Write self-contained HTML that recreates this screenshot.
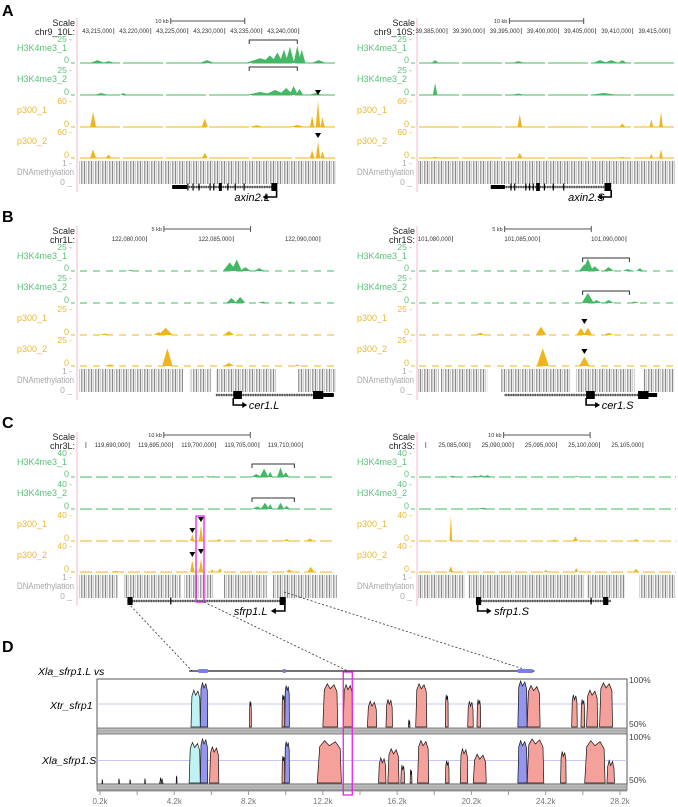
<!DOCTYPE html>
<html><head><meta charset="utf-8"><style>
html,body{margin:0;padding:0;background:#fff}
svg{display:block;font-family:"Liberation Sans",Arial,sans-serif}
</style></head><body>
<svg id="fig" width="678" height="807" viewBox="0 0 678 807" xmlns="http://www.w3.org/2000/svg">
<defs>
<pattern id="meth" width="7" height="30" patternUnits="userSpaceOnUse">
<rect x="0" y="0" width="1.2" height="30" fill="#8a8a8a"/>
<rect x="2.4" y="0" width="0.7" height="30" fill="#b0b0b0"/>
<rect x="4.3" y="0" width="1" height="30" fill="#777"/>
<rect x="5.9" y="0" width="0.5" height="30" fill="#c4c4c4"/>
</pattern>
</defs>
<g id="root"></g>
</svg>
<script>
// ---------- Panel data (kb offsets from window start) ----------
const aL_ticks=[4.7,9.7,14.7,19.7,24.7,29.7];
const aL_tickLabels=["43,215,000","43,220,000","43,225,000","43,230,000","43,235,000","43,240,000"];
const aL_h1=[[2.5,3,1],[4,2,0.8],[17.3,3,1],[24.5,5,2],[25.8,8,1],[26.8,11,0.8],[27.7,14,0.6],[28.5,17,0.6],[29.5,18,0.5],[30.1,14,0.5],[32.4,3,1]];
const aL_h2=[[3,2,1],[6,2,0.5],[24.5,3,2],[26.5,5,1.5],[28,7,1],[29,9,0.6],[29.8,6,0.5],[32,2,1]];
const aL_p1=[[1.9,35,0.4],[17,20,0.4],[24,4,1],[29.5,5,1],[31.5,25,0.3],[32.3,60,0.3],[32.9,22,0.3]];
const aL_p2=[[1.9,20,0.4],[4,8,0.4],[17,12,0.4],[31.5,18,0.3],[32.3,38,0.3],[32.9,15,0.3]];
const aL_meth=[[0,34.7]];

const aS_ticks=[3.9,8.9,13.9,18.9,23.9,28.9,33.9];
const aS_tickLabels=["39,385,000","39,390,000","39,395,000","39,400,000","39,405,000","39,410,000","39,415,000"];
const aS_h1=[[2.3,3,0.5],[13.5,2,0.8],[24.5,3,1],[26,3,1],[27.5,3,0.6]];
const aS_h2=[[2.3,12,0.3],[13.5,1.5,1],[25,2,2]];
const aS_p1=[[13.7,30,0.3],[27.5,8,0.4],[31.4,18,0.25],[32.7,35,0.25]];
const aS_p2=[[2.3,3,0.5],[13.7,12,0.35],[27.5,3,0.5],[31.4,10,0.25],[32.7,20,0.25]];
const aS_meth=[[0,34.7]];

const bL_ticks=[3.9,8.9,13.9];
const bL_tickLabels=["122,080,000","122,085,000","122,090,000"];
const bL_h1=[[3.0,1,0.3],[8.7,9,0.4],[9.1,12,0.3],[9.6,4,0.3],[10.4,3,0.3]];
const bL_h2=[[8.8,5,0.3],[9.3,6,0.3],[10.6,1.5,0.3],[12.2,1.5,0.2]];
const bL_p1=[[1.5,1.5,0.3],[4.6,3,0.3],[5.0,7,0.4],[8.65,4,0.3]];
const bL_p2=[[1.8,1.5,0.3],[5.1,17,0.3],[8.65,3,0.3],[12.6,1.5,0.2]];
const bL_meth=[[0,6],[6.4,7.6],[7.9,11.4],[12.6,14.8]];

const bS_ticks=[2.0,7.0,12.0];
const bS_tickLabels=["101,080,000","101,085,000","101,090,000"];
const bS_h1=[[9.6,7,0.3],[9.8,13,0.3],[10.2,5,0.3],[11,4,0.3],[12.1,2,0.3],[12.8,3,0.2]];
const bS_h2=[[9.8,10,0.35],[10.3,3,0.3],[11,3,0.3],[12.5,1.5,0.3]];
const bS_p1=[[3.6,2,0.3],[7.1,8,0.3],[9.4,7,0.25],[9.8,7,0.25],[11,2,0.3]];
const bS_p2=[[7.2,17,0.35],[9.6,9,0.3]];
const bS_meth=[[0,1.2],[1.3,4],[4.8,8.8],[9.1,12.5],[13,14.8]];

const cL_ticks=[0.8,5.8,10.8,15.8,20.8,25.8];
const cL_tickLabels=["","119,690,000","119,695,000","119,700,000","119,705,000","119,710,000"];
const cL_h1=[[14.9,1.5,0.3],[15.6,1.5,0.3],[20.5,5,0.6],[21.4,14,0.5],[22.1,9,0.3],[23.3,16,0.4],[23.9,8,0.4]];
const cL_h2=[[20.6,4,0.6],[21.5,10,0.5],[22.1,8,0.3],[23.3,10,0.4],[24,5,0.4]];
const cL_p1=[[13.1,10,0.25],[14.1,24,0.25],[16.2,3,0.3],[24,3,0.4],[26.7,4,0.4]];
const cL_p2=[[4.2,2,0.4],[13.1,18,0.25],[14.1,20,0.25],[15.4,4,0.2],[16.3,6,0.25],[24.3,4,0.4],[26.8,8,0.4]];
const cL_meth=[[0,4.5],[5.2,11.8],[12.1,15.6],[16.7,21.7],[22.4,29.8]];

const cS_ticks=[0.9,6.0,11.0,16.0,21.0,26.0];
const cS_tickLabels=["","25,085,000","25,090,000","25,095,000","25,100,000","25,105,000"];
const cS_h1=[[4,2,0.5],[6.6,2,0.5],[7.3,3,0.6],[8,3,0.5],[18.3,1.5,0.5]];
const cS_h2=[[7.5,2,0.8],[25,1,0.5]];
const cS_p1=[[3.8,40,0.15],[15.8,2,0.3],[18.2,7,0.3],[25.2,3,0.3]];
const cS_p2=[[3.8,9,0.25],[14.8,3,0.3],[18.3,6,0.25],[25.2,5,0.3]];
const cS_meth=[[0,5.4],[5.8,19.3],[19.5,23.9],[25.6,29.8]];

// ---------- Conservation (VISTA) data, positions in k ----------
const dTicks=[0.2,2.2,4.2,6.2,8.2,10.2,12.2,14.2,16.2,18.2,20.2,22.2,24.2,26.2,28.2];
const dTickLabels=["0.2k","","4.2k","","8.2k","","12.2k","","16.2k","","20.2k","","24.2k","","28.2k"];
const dXtr=[[5.1,5.6,90,"c"],[5.6,6.0,98,"b"],[8.25,8.35,78,"r"],[10.0,10.15,85,"r"],[10.15,10.4,95,"b"],[12.2,13.0,97,"r"],[13.3,13.8,96,"r"],[14.6,15.1,78,"r"],[15.6,15.95,80,"r"],[16.8,16.9,58,"r"],[17.2,17.8,97,"r"],[18.8,18.95,85,"r"],[20.0,20.3,78,"r"],[20.5,20.7,80,"r"],[22.7,23.2,100,"b"],[23.2,23.9,95,"r"],[25.6,25.9,85,"r"],[26.1,26.3,80,"r"],[26.4,27.0,90,"r"],[27.1,27.8,98,"r"]];
const dXlaS=[[0.3,0.35,54,"n"],[1.2,1.25,55,"n"],[1.8,1.85,54,"n"],[2.6,2.65,55,"n"],[3.4,3.6,56,"n"],[4.3,4.35,58,"n"],[5.0,5.6,95,"c"],[5.6,6.0,99,"b"],[6.1,6.6,90,"r"],[10.0,10.15,80,"r"],[10.15,10.4,96,"b"],[11.9,13.2,97,"r"],[15.2,15.6,78,"r"],[15.7,16.3,88,"r"],[16.4,16.6,70,"r"],[16.9,17.0,65,"r"],[17.3,17.9,97,"r"],[18.8,19.0,75,"r"],[19.6,20.0,88,"r"],[20.3,21.0,82,"r"],[22.7,23.2,97,"b"],[23.2,24.1,99,"r"],[25.0,25.3,85,"r"],[26.3,27.4,97,"r"],[27.5,27.9,75,"r"]];
const dExons=[[5.5,6.0],[10.05,10.2],[22.7,23.5]];

// ---------- Rendering ----------
const NS="http://www.w3.org/2000/svg";
const root=document.getElementById("root");
function el(tag,attrs,parent){const e=document.createElementNS(NS,tag);for(const k in attrs)e.setAttribute(k,attrs[k]);(parent||root).appendChild(e);return e;}
function txt(x,y,s,attrs,parent){const t=el("text",Object.assign({x:x,y:y},attrs),parent);t.textContent=s;return t;}

const GREEN="#45b865",GREENT="#5cc07a",YEL="#f0b51e",YELT="#e8b830";
const L={pink:77,x0:79,end:336,lab:75,name:17};
const R={pink:417,x0:418,end:676,lab:415,name:357};
const rows=[{key:"h1",top:39,base:63,name:"H3K4me3_1",c:GREEN,tc:GREENT},{key:"h2",top:70,base:95,name:"H3K4me3_2",c:GREEN,tc:GREENT},{key:"p1",top:101,base:127,name:"p300_1",c:YEL,tc:YELT},{key:"p2",top:132,base:158,name:"p300_2",c:YEL,tc:YELT}];

const panels=[
 {id:"a-left",side:L,y:0,k:7.4,chr:"chr9_10L:",ticks:aL_ticks,tl:aL_tickLabels,bar:[12.4,22.4],barLab:"10 kb",max:[25,25,60,60],dash:"40 3",h1:aL_h1,h2:aL_h2,p1:aL_p1,p2:aL_p2,meth:aL_meth,
  brackets:[[23,29.5,40],[23,29.5,67]],tris:[[32.3,90],[32.3,133]],
  gene:{line:[12.6,26.6],utr:[[12.6,14.6]],ticks:[14.7,15.4,16.2,17.7,18.2,20.1,21.1,22.3],boxes:[[18.9,19.3],[26.0,26.8]],tss:26.7,dir:-1,label:"axin2.L",lx:21.0}},
 {id:"a-right",side:R,y:0,k:7.43,chr:"chr9_10S:",ticks:aS_ticks,tl:aS_tickLabels,bar:[12.3,22.3],barLab:"10 kb",max:[25,25,60,60],dash:"40 3",h1:aS_h1,h2:aS_h2,p1:aS_p1,p2:aS_p2,meth:aS_meth,
  brackets:[],tris:[],
  gene:{line:[9.8,26.0],utr:[[9.8,11.7]],ticks:[12.5,13.0,14.5,15.0,15.5,17.0,18.2,19.6],boxes:[[15.9,16.4],[25.1,26.0]],tss:26.0,dir:-1,label:"axin2.S",lx:20.2}},
 {id:"b-left",side:L,y:208,k:17.33,chr:"chr1L:",ticks:bL_ticks,tl:bL_tickLabels,bar:[4.9,9.9],barLab:"5 kb",max:[25,25,25,25],dash:"7 6",h1:bL_h1,h2:bL_h2,p1:bL_p1,p2:bL_p2,meth:bL_meth,
  brackets:[],tris:[],
  gene:{line:[7.9,14.7],utr:[[14.1,14.7]],ticks:[],boxes:[[8.9,9.4],[13.5,14.1]],tss:8.9,dir:1,label:"cer1.L",lx:9.8}},
 {id:"b-right",side:R,y:208,k:17.33,chr:"chr1S:",ticks:bS_ticks,tl:bS_tickLabels,bar:[5.0,10.0],barLab:"5 kb",max:[25,25,25,25],dash:"7 6",h1:bS_h1,h2:bS_h2,p1:bS_p1,p2:bS_p2,meth:bS_meth,
  brackets:[[9.5,12.2,50],[9.5,12.2,83]],tris:[[9.6,111],[9.6,141]],
  gene:{line:[5.0,13.7],utr:[[13.3,13.8]],ticks:[],boxes:[[9.7,10.2],[12.7,13.3]],tss:9.7,dir:1,label:"cer1.S",lx:10.6}},
 {id:"c-left",side:L,y:414,k:8.65,chr:"chr3L:",ticks:cL_ticks,tl:cL_tickLabels,bar:[9.8,19.8],barLab:"10 kb",max:[40,40,40,40],dash:"12 4",h1:cL_h1,h2:cL_h2,p1:cL_p1,p2:cL_p2,meth:cL_meth,
  brackets:[[20,24.9,50],[20,24.9,84]],tris:[[13.1,114],[14.1,103],[13.1,138],[14.1,135]],
  gene:{line:[5.6,23.9],utr:[],ticks:[10.6],boxes:[[5.6,6.2],[23.2,23.9]],tss:23.8,dir:-1,label:"sfrp1.L",lx:17.9}},
 {id:"c-right",side:R,y:414,k:8.65,chr:"chr3S:",ticks:cS_ticks,tl:cS_tickLabels,bar:[9.9,19.9],barLab:"10 kb",max:[40,40,40,40],dash:"12 4",h1:cS_h1,h2:cS_h2,p1:cS_p1,p2:cS_p2,meth:cS_meth,
  brackets:[],tris:[],
  gene:{line:[6.7,22.3],utr:[],ticks:[20.0],boxes:[[6.7,7.3],[21.4,22.0]],tss:6.9,dir:1,label:"sfrp1.S",lx:8.8}}
];

[["A",16],["B",222],["C",428],["D",652]].forEach(function(p){
  const t=txt(2,p[1],p[0],{"font-size":"16","font-weight":"bold",fill:"#000"});
  
  
});

panels.forEach(function(P){
  const S=P.side, y0=P.y;
  const g=el("g",{});
  
  
  const X=function(kb){return S.x0+kb*P.k;};
  el("line",{x1:S.pink,y1:y0+18,x2:S.pink,y2:y0+192,stroke:"#f6b8c4","stroke-width":"1"},g);
  txt(S.lab,y0+26,"Scale",{"font-size":"9","text-anchor":"end",fill:"#222"},g);
  txt(S.lab,y0+35,P.chr,{"font-size":"9","text-anchor":"end",fill:"#222"},g);
  const bx1=X(P.bar[0]),bx2=X(P.bar[1]);
  el("line",{x1:bx1,y1:y0+21,x2:bx2,y2:y0+21,stroke:"#555","stroke-width":"1"},g);
  el("line",{x1:bx1,y1:y0+18,x2:bx1,y2:y0+24,stroke:"#555"},g);
  el("line",{x1:bx2,y1:y0+18,x2:bx2,y2:y0+24,stroke:"#555"},g);
  txt(bx1-2,y0+23,P.barLab,{"font-size":"5.5","text-anchor":"end",fill:"#333"},g);
  P.ticks.forEach(function(t,i){
    const x=X(t);
    el("line",{x1:x,y1:y0+28,x2:x,y2:y0+34,stroke:"#444","stroke-width":"0.7"},g);
    if(P.tl[i]) txt(x-1.5,y0+33,P.tl[i],{"font-size":"6","text-anchor":"end",fill:"#333"},g);
  });
  rows.forEach(function(r,ri){
    const top=y0+r.top, base=y0+r.base, H=base-top, mx=P.max[ri];
    const nm=txt(S.name,y0+r.top+12,r.name,{"font-size":"9",fill:r.tc},g);
    
    
    txt(S.lab-3,top+3,mx+" -",{"font-size":"8.5","text-anchor":"end",fill:r.tc},g);
    txt(S.lab-6,base,"0",{"font-size":"9","text-anchor":"end",fill:r.tc},g);
    el("line",{x1:S.lab-4,y1:base,x2:S.lab,y2:base,stroke:r.tc},g);
    el("line",{x1:S.x0+1,y1:base,x2:S.end,y2:base,stroke:r.c,"stroke-width":"1.1","stroke-dasharray":P.dash},g);
    P[r.key].forEach(function(pk){
      const c=X(pk[0]),w=pk[2]*P.k,h=Math.min(pk[1],mx)/mx*H;
      const poly=el("polygon",{points:(c-w)+","+base+" "+(c-w*0.3)+","+(base-h*0.7)+" "+c+","+(base-h)+" "+(c+w*0.3)+","+(base-h*0.7)+" "+(c+w)+","+base,fill:r.c},g);
      
      
    });
  });
  txt(S.lab-3,y0+166,"1 -",{"font-size":"8.5","text-anchor":"end",fill:"#aaa"},g);
  txt(S.name,y0+175,"DNAmethylation",{"font-size":"9",fill:"#a8a8a8",textLength:"57",lengthAdjust:"spacingAndGlyphs"},g);
  txt(S.lab-3,y0+185,"0 _",{"font-size":"8.5","text-anchor":"end",fill:"#aaa"},g);
  P.meth.forEach(function(m){
    const r=el("rect",{x:X(m[0]),y:y0+161,width:(m[1]-m[0])*P.k,height:23,fill:"url(#meth)"},g);
    
    
  });
  P.brackets.forEach(function(b){
    const x1=X(b[0]),x2=X(b[1]),yy=y0+b[2];
    el("polyline",{points:x1+","+(yy+4)+" "+x1+","+yy+" "+x2+","+yy+" "+x2+","+(yy+4),fill:"none",stroke:"#333","stroke-width":"1"},g);
  });
  P.tris.forEach(function(t){
    const x=X(t[0]),yy=y0+t[1];
    el("polygon",{points:(x-3)+","+yy+" "+(x+3)+","+yy+" "+x+","+(yy+5),fill:"#000"},g);
  });
  const G=P.gene, gy=y0+187;
  const gg=el("g",{},g);
  
  
  el("line",{x1:X(G.line[0]),y1:gy,x2:X(G.line[1]),y2:gy,stroke:"#444","stroke-width":"2.6","stroke-dasharray":"0.8 0.9"},gg);
  el("line",{x1:X(G.line[0]),y1:gy,x2:X(G.line[1]),y2:gy,stroke:"#222","stroke-width":"0.8"},gg);
  G.utr.forEach(function(u){el("rect",{x:X(u[0]),y:gy-2,width:(u[1]-u[0])*P.k,height:4,fill:"#000"},gg);});
  G.ticks.forEach(function(t){el("rect",{x:X(t)-0.5,y:gy-3.5,width:1.2,height:7,fill:"#000"},gg);});
  G.boxes.forEach(function(u){el("rect",{x:X(u[0]),y:gy-4,width:(u[1]-u[0])*P.k,height:8,fill:"#000"},gg);});
  const tx=X(G.tss), ay=gy+10;
  el("polyline",{points:tx+","+(gy+3)+" "+tx+","+ay+" "+(tx+G.dir*12)+","+ay,fill:"none",stroke:"#000","stroke-width":"1.6"},gg);
  const ax=tx+G.dir*14;
  el("polygon",{points:ax+","+ay+" "+(ax-G.dir*5)+","+(ay-3)+" "+(ax-G.dir*5)+","+(ay+3),fill:"#000"},gg);
  txt(X(G.lx),y0+201,G.label,{"font-size":"11","font-style":"italic",fill:"#000"},gg);
});

el("rect",{x:196,y:516,width:8,height:86,fill:"none",stroke:"#e820e8","stroke-width":"1.3"});
[[128,603,193,672],[204,602,352,673],[284,592,533,672]].forEach(function(d){
  const ln=el("line",{x1:d[0],y1:d[1],x2:d[2],y2:d[3],stroke:"#333","stroke-width":"0.8","stroke-dasharray":"2 2"});
  
  
});

// ---------- Panel D ----------
const DX=function(k){return 100+(k-0.2)*18.57;};
const tracksD=[{data:dXtr,top:681,bot:727,name:"Xtr_sfrp1",ny:709},{data:dXlaS,top:738,bot:783,name:"Xla_sfrp1.S",ny:764}];
const d=el("g",{});


txt(38,675,"Xla_sfrp1.L vs",{"font-size":"10.5","font-style":"italic",fill:"#000"},d);
el("line",{x1:DX(5.0),y1:671,x2:DX(23.6),y2:671,stroke:"#222","stroke-width":"1.2"},d);
dExons.forEach(function(e){el("rect",{x:DX(e[0]),y:669,width:(e[1]-e[0])*18.57,height:4,fill:"#7d7de8"},d);});
el("rect",{x:97,y:679,width:530,height:105,fill:"#fff",stroke:"#555","stroke-width":"1"},d);
tracksD.forEach(function(T,ti){
  const Y=function(v){return T.bot-(v-50)/50*(T.bot-T.top);};
  el("line",{x1:97,y1:Y(75),x2:627,y2:Y(75),stroke:"#c8c8f0","stroke-width":"1"},d);
  const lab=txt(T.name==="Xtr_sfrp1"?50:42,T.ny,T.name,{"font-size":"10.5","font-style":"italic",fill:"#000"},d);
  
  
  txt(629,T.top+2,"100%",{"font-size":"8.5",fill:"#444"},d);
  txt(629,T.bot,"50%",{"font-size":"8.5",fill:"#444"},d);
  T.data.forEach(function(r){
    const x1=DX(r[0]),x2=DX(r[1]),yp=Y(r[2]),w=x2-x1;
    const col=r[3]==="c"?"#bff2f2":r[3]==="b"?"#9595f0":r[3]==="n"?"none":"#f4a19b";
    const pts=x1+","+T.bot+" "+(x1+w*0.1)+","+(yp+6)+" "+(x1+w*0.3)+","+yp+" "+(x1+w*0.5)+","+(yp+5)+" "+(x1+w*0.75)+","+(yp+1)+" "+(x2-w*0.05)+","+(yp+8)+" "+x2+","+T.bot;
    const poly=el("polygon",{points:pts,fill:col,stroke:"#111","stroke-width":"0.7"},d);
    
    
  });
  const by=T.bot+1;
  el("rect",{x:97,y:by,width:530,height:6,fill:"#bdbdbd",stroke:"#666","stroke-width":"0.8"},d);
  el("line",{x1:97,y1:by+3,x2:627,y2:by+3,stroke:"#888","stroke-width":"0.6"},d);
});
el("line",{x1:97,y1:791,x2:627,y2:791,stroke:"#999","stroke-width":"1"},d);
dTicks.forEach(function(t,i){
  const x=DX(t);
  el("line",{x1:x,y1:791,x2:x,y2:795,stroke:"#999"},d);
  if(dTickLabels[i]) txt(x,804,dTickLabels[i],{"font-size":"8","text-anchor":"middle",fill:"#777"},d);
});
el("rect",{x:DX(13.3),y:672,width:9,height:123,fill:"none",stroke:"#e820e8","stroke-width":"1.3"},d);
</script>
</body></html>
